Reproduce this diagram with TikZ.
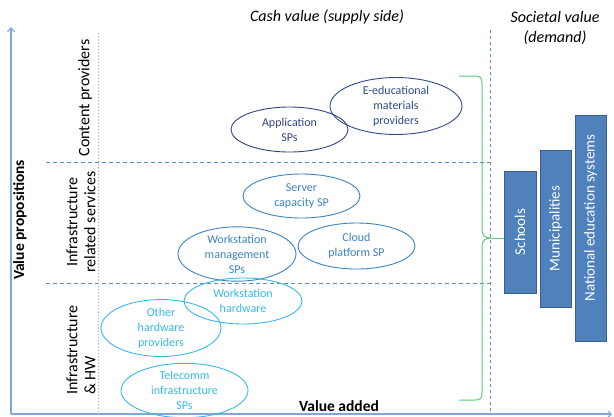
\documentclass[tikz,border=0pt]{standalone}
\usepackage{fontspec}
\setmainfont{Carlito}
\usetikzlibrary{shapes.geometric,arrows.meta}

\definecolor{axisblue}{HTML}{7FA7DA}
\definecolor{gridblue}{HTML}{5B8CCB}
\definecolor{dotblue}{HTML}{8FB4E3}
\definecolor{appblue}{HTML}{34437F}
\definecolor{edublue}{HTML}{2F4B8C}
\definecolor{midblue}{HTML}{3C82C4}
\definecolor{cyanblue}{HTML}{37B8E8}
\definecolor{bracegreen}{HTML}{5CC97E}
\definecolor{boxfill}{HTML}{4F81BD}
\definecolor{boxline}{HTML}{3A5F8E}

\begin{document}
\begin{tikzpicture}[x=1bp,y=-1bp,
  sp/.style={ellipse, draw, line width=0.9bp, inner sep=0pt, align=center,
    font=\fontsize{12bp}{15bp}\selectfont},
  axis/.style={draw=axisblue, line width=1.1bp},
  sepline/.style={draw=gridblue, dashed, line width=0.7bp, dash pattern=on 4bp off 3bp},
  dotline/.style={draw=dotblue, line width=1bp, dash pattern=on 1.2bp off 2bp},
  rowlabel/.style={rotate=90, inner sep=0pt, font=\fontsize{16bp}{18bp}\selectfont},
  heading/.style={inner sep=0pt, align=center, font=\fontsize{16bp}{20bp}\selectfont\itshape},
  axislabel/.style={inner sep=0pt, font=\fontsize{15.5bp}{18bp}\selectfont\bfseries},
  demandbox/.style={draw=boxline, fill=boxfill, line width=0.9bp, inner sep=0pt},
  boxtext/.style={rotate=90, text=white, inner sep=0pt, font=\fontsize{15bp}{18bp}\selectfont},
  brace/.style={draw=bracegreen, line width=1bp}
]
\useasboundingbox (0,0) rectangle (614,416);

% axes
\coordinate (origin) at (11,414);
\coordinate (ytop) at (11,27);
\coordinate (xend) at (612,414);
\draw[axis, -{Straight Barb[length=4bp,width=7bp]}] (origin) -- (ytop);
\draw[axis, -{Straight Barb[length=3bp,width=6bp]}] (origin) -- (xend);
\node[axislabel, rotate=90] (vprop) at (20,220) {Value propositions};
\node[axislabel] (vadd) at (339,406) {Value added};

% section separators
\coordinate (rowtopL) at (46,162);
\coordinate (rowtopR) at (490,162);
\coordinate (rowbotL) at (46,283);
\coordinate (rowbotR) at (492,283);
\draw[sepline] (rowtopL) -- (rowtopR);
\draw[sepline] (rowbotL) -- (rowbotR);
\coordinate (labsepT) at (98,33);
\coordinate (labsepB) at (98,414);
\draw[dotline] (labsepT) -- (labsepB);
\coordinate (demsepT) at (490,30);
\coordinate (demsepB) at (490,414);
\draw[sepline, dash pattern=on 3bp off 3bp] (demsepT) -- (demsepB);

% headings
\node[heading] (cash) at (327,17) {Cash value (supply side)};
\node[heading] (societal) at (555,28) {Societal value\\(demand)};

% row labels
\node[rowlabel] (rowcontent) at (85,98) {Content providers};
\node[rowlabel, align=center] (rowinfra) at (81,222) {Infrastructure\\related services};
\node[rowlabel, align=left, anchor=west] (rowhw) at (81,395) {Infrastructure\\\& HW};

% supply-side actors
\node[sp, draw=appblue, text=appblue, minimum width=117bp, minimum height=45bp] (app) at (289.5,129.5) {Application\\SPs};
\node[sp, draw=edublue, text=edublue, minimum width=132bp, minimum height=54bp] (edu) at (396,106) {E-educational\\materials\\providers};
\node[sp, draw=midblue, text=midblue, minimum width=117bp, minimum height=44bp] (server) at (301.5,196) {Server\\capacity SP};
\node[sp, draw=midblue, text=midblue, minimum width=118bp, minimum height=52bp] (wsmgmt) at (237,254) {Workstation\\management\\SPs};
\node[sp, draw=midblue, text=midblue, minimum width=117bp, minimum height=46bp] (cloud) at (356.5,246) {Cloud\\platform SP};
\node[sp, draw=cyanblue, text=cyanblue, minimum width=118bp, minimum height=46bp] (wshw) at (243,301) {Workstation\\hardware};
\node[sp, draw=cyanblue, text=cyanblue, minimum width=120bp, minimum height=54bp] (otherhw) at (161,328) {Other\\hardware\\providers};
\node[sp, draw=cyanblue, text=cyanblue, minimum width=127bp, minimum height=43bp] (telecomm) at (184.5,390.5) {Telecomm\\infrastructure\\SPs};

% demand side
\node[demandbox, minimum width=32bp, minimum height=122bp] (schools) at (520,232) {};
\node[boxtext] at (schools) {Schools};
\node[demandbox, minimum width=31bp, minimum height=157bp] (munic) at (555.5,228.5) {};
\node[boxtext] at (munic) {Municipalities};
\node[demandbox, minimum width=31bp, minimum height=226bp] (national) at (590.5,228) {};
\node[boxtext] at ([yshift=10bp]national.center) {National education systems};

% brace gathering the supply side
\coordinate (braceTop) at (459,76);
\coordinate (braceBot) at (459,400);
\coordinate (braceTip) at (492,238);
\draw[brace] (braceTop) -- (475,76) .. controls (481,76) and (482,78) .. (482,84)
  -- (482,229) .. controls (482,236) and (485,238) .. (braceTip)
  .. controls (485,238) and (482,240) .. (482,247)
  -- (482,392) .. controls (482,398) and (481,400) .. (475,400) -- (braceBot);
\draw[brace] (braceTip) -- (schools.west |- braceTip);
\end{tikzpicture}
\end{document}
